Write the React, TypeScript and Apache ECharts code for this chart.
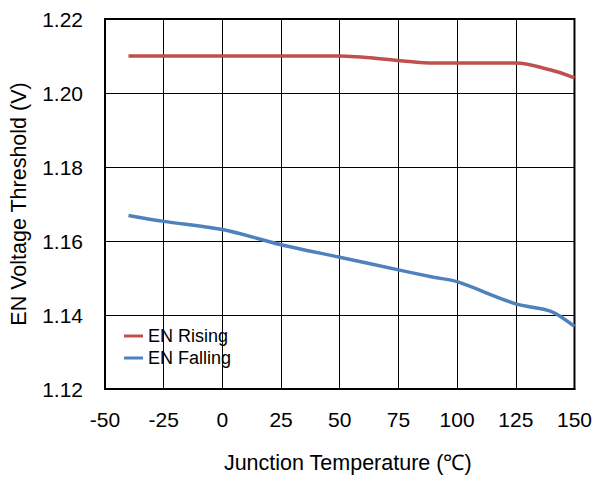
import React, { useEffect, useRef } from "react";
import * as echarts from "echarts";

const temps = [-40, -25, 0, 25, 50, 75, 90, 100, 125, 140, 150];
const enRising = [1.21, 1.21, 1.21, 1.21, 1.21, 1.2088, 1.2081, 1.2081, 1.2081, 1.2062, 1.2041];
const enFalling = [1.1669, 1.1653, 1.1631, 1.159, 1.1556, 1.1522, 1.1502, 1.149, 1.143, 1.141, 1.1369];
const seriesNames = ["EN Rising", "EN Falling"];
const seriesColors = ["#C0504D", "#4F81BD"];

export default function App() {
  const ref = useRef<HTMLDivElement>(null);
  useEffect(() => {
    if (!ref.current) return;
    const chart = echarts.init(ref.current, null, { renderer: "svg" });
    const font = "Liberation Sans";
    chart.setOption({
      animation: false,
      backgroundColor: "#fff",
      textStyle: { fontFamily: font },
      grid: {
        left: 103,
        top: 19,
        right: 19,
        bottom: 88,
        show: true,
        borderColor: "#000",
        borderWidth: 2,
        containLabel: false,
      },
      legend: {
        show: true,
        orient: "vertical",
        left: 119,
        top: 322,
        itemWidth: 19,
        itemHeight: 3,
        itemGap: 4,
        icon: "rect",
        textStyle: { fontFamily: font, fontSize: 18, color: "#000" },
        data: seriesNames,
      },
      xAxis: {
        type: "value",
        min: -50,
        max: 150,
        interval: 25,
        name: "Junction Temperature (℃)",
        nameLocation: "middle",
        nameGap: 63,
        nameMoveOverlap: false,
        nameTextStyle: { fontFamily: font, fontSize: 21.5, color: "#000", padding: [0, 0, 0, 16] },
        axisLine: { show: true, onZero: false, lineStyle: { color: "#000", width: 2 } },
        axisTick: { show: false },
        axisLabel: { fontFamily: font, fontSize: 21, color: "#000", margin: 20 },
        splitLine: { show: true, lineStyle: { color: "#000", width: 1 } },
      },
      yAxis: {
        type: "value",
        min: 1.12,
        max: 1.22,
        interval: 0.02,
        name: "EN Voltage Threshold (V)",
        nameLocation: "middle",
        nameGap: 75,
        nameMoveOverlap: false,
        nameTextStyle: { fontFamily: font, fontSize: 21.5, color: "#000" },
        axisLine: { show: true, onZero: false, lineStyle: { color: "#000", width: 2 } },
        axisTick: { show: false },
        axisLabel: {
          fontFamily: font,
          fontSize: 21,
          color: "#000",
          margin: 22,
          formatter: (v: number) => v.toFixed(2),
        },
        splitLine: { show: true, lineStyle: { color: "#000", width: 1 } },
      },
      series: [
        {
          name: seriesNames[0],
          type: "line",
          data: temps.map((t, i) => [t, enRising[i]]),
          smooth: 0.3,
          showSymbol: false,
          lineStyle: { color: seriesColors[0], width: 3.5 },
          itemStyle: { color: seriesColors[0] },
        },
        {
          name: seriesNames[1],
          type: "line",
          data: temps.map((t, i) => [t, enFalling[i]]),
          smooth: 0.3,
          showSymbol: false,
          lineStyle: { color: seriesColors[1], width: 3.5 },
          itemStyle: { color: seriesColors[1] },
        },
      ],
    });
    return () => chart.dispose();
  }, []);
  return <div ref={ref} style={{ width: 595, height: 479, position: "absolute", left: 0, top: 0 }} />;
}
